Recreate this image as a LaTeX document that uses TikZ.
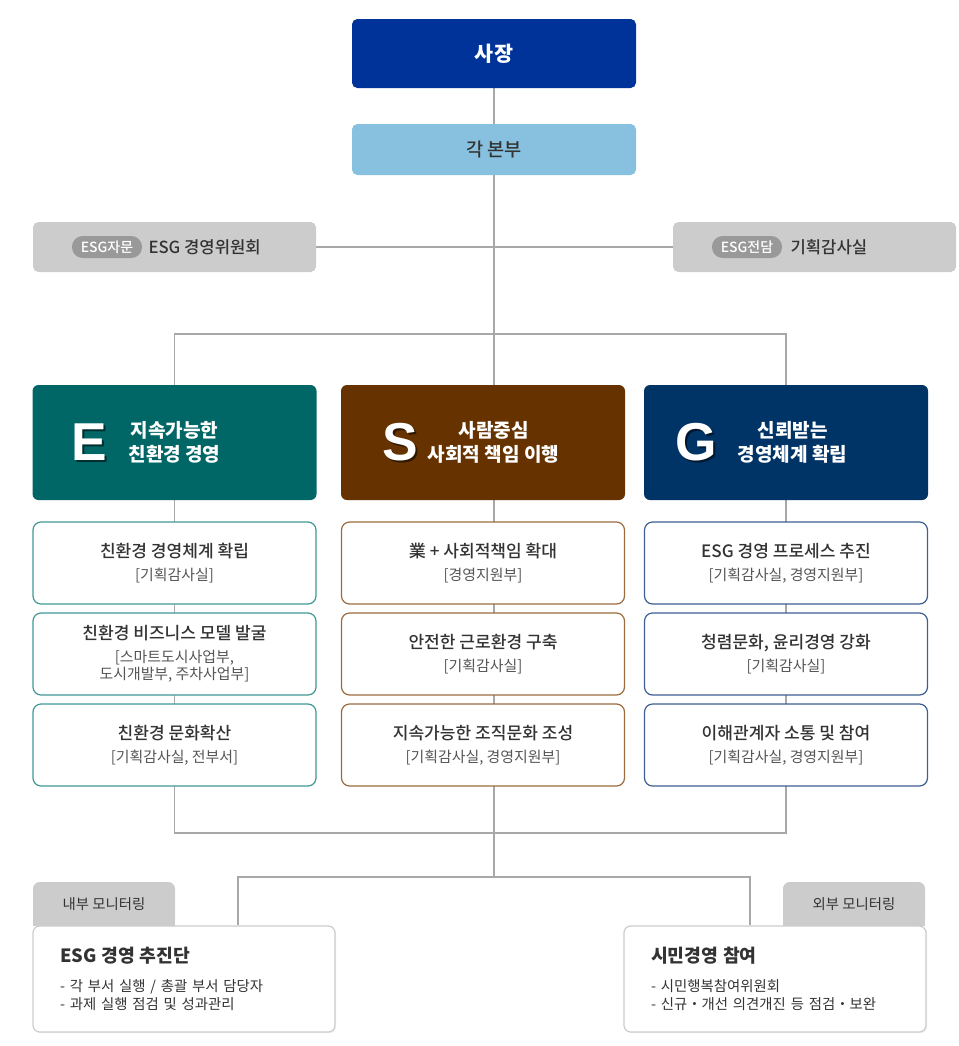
\documentclass[tikz,border=0pt]{standalone}
\usepackage{fontspec}
\setmainfont{Noto Sans CJK KR}
\newfontfamily\mediumfont{Noto Sans CJK KR Medium}
\newfontfamily\letterfont{Liberation Sans}
\usepackage{tikz}
\usetikzlibrary{positioning,backgrounds,shadows}

\definecolor{ceoblue}{HTML}{003399}
\definecolor{hqblue}{HTML}{88C1E0}
\definecolor{panelgray}{HTML}{CCCCCC}
\definecolor{pillgray}{HTML}{999999}
\definecolor{linegray}{HTML}{A8A8A8}
\definecolor{darktext}{HTML}{333333}
\definecolor{subgray}{HTML}{555555}
\definecolor{efill}{HTML}{006666}
\definecolor{sfill}{HTML}{663300}
\definecolor{gfill}{HTML}{003366}
\definecolor{eline}{HTML}{3F9896}
\definecolor{sline}{HTML}{9C6B3E}
\definecolor{gline}{HTML}{3D5F94}

\newcommand\dtitle[1]{{\fontsize{12.8}{15}\selectfont\mediumfont #1}}
\newcommand\dsub[1]{{\color{subgray}#1}}
\newcommand\ptitle[1]{{\fontsize{13.7}{16}\selectfont\bfseries #1}}

\begin{document}
\begin{tikzpicture}
[
	x=0.75pt, y=-0.75pt,
	topbox/.style = {rectangle, rounded corners=4pt, inner sep=0pt, minimum width=213pt},
	graybox/.style = {rectangle, fill=panelgray, rounded corners=4pt, inner sep=0pt, minimum width=212.25pt, minimum height=37.5pt},
	pill/.style = {rectangle, fill=pillgray, text=white, rounded corners=8pt, inner sep=0pt, minimum width=52.5pt, minimum height=16.5pt, font=\mediumfont\fontsize{10.5}{12}\selectfont},
	plaintext/.style = {inner sep=0pt, text=darktext, font=\mediumfont\fontsize{12.5}{14}\selectfont},
	group/.style = {rectangle, rounded corners=4.5pt, inner sep=0pt, minimum width=213pt, minimum height=86.25pt, text=white, align=center, font=\fontsize{14.3}{17.5}\selectfont\bfseries},
	letter/.style = {inner sep=0pt, text=white, font=\letterfont\fontsize{40}{40}\selectfont\bfseries},
	shade/.style = {inner sep=0pt, text=black, opacity=0.55, font=\letterfont\fontsize{40}{40}\selectfont\bfseries},
	detail/.style = {rectangle, fill=white, rounded corners=6pt, line width=0.9pt, inner sep=0pt, minimum width=212.25pt, minimum height=61.5pt, align=center, text=darktext, font=\fontsize{11.2}{13}\selectfont},
	tab/.style = {rectangle, fill=panelgray, rounded corners=5pt, inner sep=0pt, minimum width=106.5pt, minimum height=33pt, text=darktext, font=\fontsize{10.8}{12}\selectfont},
	panel/.style = {rectangle, draw=panelgray, fill=white, rounded corners=5pt, line width=0.9pt, drop shadow={opacity=0.12, shadow xshift=0.8pt, shadow yshift=-0.8pt}, inner xsep=20.25pt, inner ysep=0pt, minimum width=226.5pt, minimum height=79.5pt, text width=186pt, align=left, text=darktext, font=\fontsize{10.8}{13.5}\selectfont},
	line/.style = {draw=linegray, line width=0.8pt}
]

\node[topbox, fill=ceoblue, minimum height=51.75pt, text=white, font=\fontsize{15.5}{18}\selectfont\bfseries] (ceo) at (494,53.5) {사장};
\node[topbox, fill=hqblue, minimum height=38.25pt, text=darktext, font=\mediumfont\fontsize{14}{16}\selectfont] (hq) at (494,149.5) {각 본부};

\node[graybox] (committee) at (174.5,247) {};
\node[pill] (advise) at (107,247) {ESG자문};
\node[plaintext, right=4.5pt of advise] (committeename) {ESG 경영위원회};
\node[graybox] (audit) at (814.5,247) {};
\node[pill] (charge) at (747,247) {ESG전담};
\node[plaintext, right=6pt of charge] (auditname) {기획감사실};

\node[group, fill=efill] (egroup) at (174.5,442.5) {지속가능한\\친환경 경영};
\node[group, fill=sfill] (sgroup) at (483,442.5) {\hspace*{16pt}사람중심\\\hspace*{16pt}사회적 책임 이행};
\node[group, fill=gfill] (ggroup) at (786,442.5) {\hspace*{10pt}신뢰받는\\\hspace*{10pt}경영체계 확립};

\node[shade] (eshade) at ([xshift=-62.25pt, yshift=-1.5pt]egroup.center) {E};
\node[letter] (eletter) at ([xshift=-63.75pt]egroup.center) {E};
\node[shade] (sshade) at ([xshift=-60.75pt, yshift=-1.5pt]sgroup.center) {S};
\node[letter] (sletter) at ([xshift=-62.25pt]sgroup.center) {S};
\node[shade] (gshade) at ([xshift=-66pt, yshift=-1.5pt]ggroup.center) {G};
\node[letter] (gletter) at ([xshift=-67.5pt]ggroup.center) {G};

\node[detail, draw=eline] (e1) at (174.5,563) {\dtitle{친환경 경영체계 확립}\\[4pt]\dsub{[기획감사실]}};
\node[detail, draw=eline] (e2) at (174.5,654) {\dtitle{친환경 비즈니스 모델 발굴}\\[4pt]\dsub{[스마트도시사업부,}\\\dsub{도시개발부, 주차사업부]}};
\node[detail, draw=eline] (e3) at (174.5,745) {\dtitle{친환경 문화확산}\\[4pt]\dsub{[기획감사실, 전부서]}};

\node[detail, draw=sline] (s1) at (483,563) {\dtitle{業 + 사회적책임 확대}\\[4pt]\dsub{[경영지원부]}};
\node[detail, draw=sline] (s2) at (483,654) {\dtitle{안전한 근로환경 구축}\\[4pt]\dsub{[기획감사실]}};
\node[detail, draw=sline] (s3) at (483,745) {\dtitle{지속가능한 조직문화 조성}\\[4pt]\dsub{[기획감사실, 경영지원부]}};

\node[detail, draw=gline] (g1) at (786,563) {\dtitle{ESG 경영 프로세스 추진}\\[4pt]\dsub{[기획감사실, 경영지원부]}};
\node[detail, draw=gline] (g2) at (786,654) {\dtitle{청렴문화, 윤리경영 강화}\\[4pt]\dsub{[기획감사실]}};
\node[detail, draw=gline] (g3) at (786,745) {\dtitle{이해관계자 소통 및 참여}\\[4pt]\dsub{[기획감사실, 경영지원부]}};

\node[tab] (intab) at (104,904) {내부 모니터링};
\fill[panelgray] ([yshift=6pt]intab.south west) rectangle (intab.south east);
\node[tab] (outtab) at (854,904) {외부 모니터링};
\fill[panelgray] ([yshift=6pt]outtab.south west) rectangle (outtab.south east);

\node[panel] (inner) at (184,979) {\ptitle{ESG 경영 추진단}\\[8pt]- 각 부서 실행 / 총괄 부서 담당자\\- 과제 실행 점검 및 성과관리};
\node[panel] (outer) at (775,979) {\ptitle{시민경영 참여}\\[8pt]- 시민행복참여위원회\\- 신규・개선 의견개진 등 점검・보완};

\coordinate (split) at (494,334);
\coordinate (join) at (494,833);
\coordinate (fork) at (494,877);

\begin{scope}[on background layer]
\draw[line] (ceo) -- (hq);
\draw[line] (committee) -- (audit);
\draw[line] (hq.south) -- (join);
\draw[line] (egroup.north) |- (split) -| (ggroup.north);
\draw[line] (egroup) -- (e3.south) |- (join) -| (g3.south) -- (ggroup);
\draw[line] (join) -- (fork);
\draw[line] ([xshift=40.5pt]inner.north) |- (fork) -| ([xshift=-18.75pt]outer.north);
\end{scope}

\useasboundingbox (0,0) rectangle (959,1046);

\end{tikzpicture}
\end{document}
